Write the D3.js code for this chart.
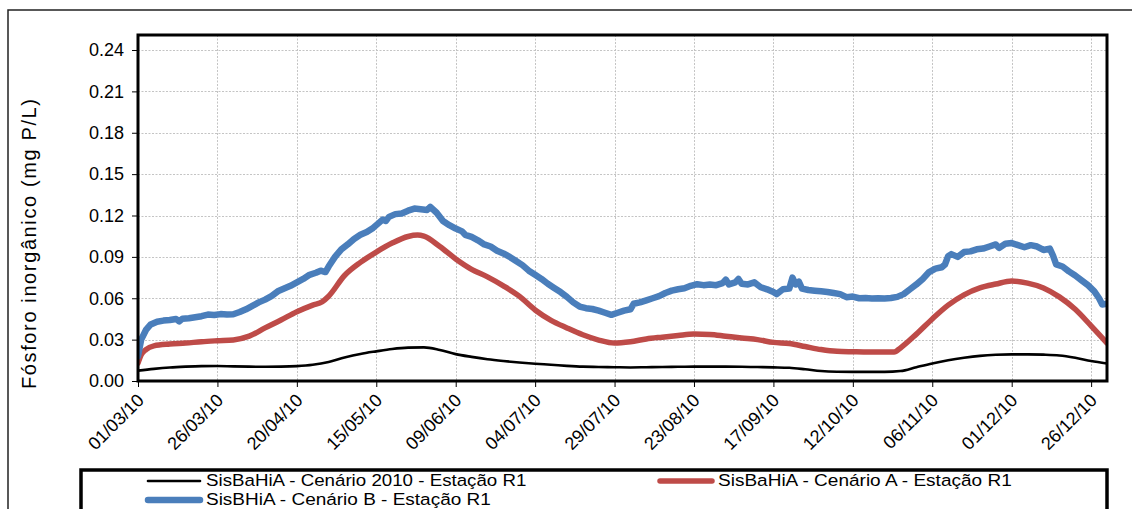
<!DOCTYPE html>
<html>
<head>
<meta charset="utf-8">
<script src="https://cdn.jsdelivr.net/npm/d3@7"></script>
<style>
  html, body { margin: 0; padding: 0; background: #fff; }
  svg { display: block; font-family: "Liberation Sans", Arial, sans-serif; }
</style>
</head>
<body>
<svg id="chart" width="1132" height="509"></svg>
<script>
// Inorganic phosphorus at station R1, 2010 (mg P/L)
const startDay = "01/03/10";
const tickLabels = ["01/03/10", "26/03/10", "20/04/10", "15/05/10", "09/06/10", "04/07/10",
  "29/07/10", "23/08/10", "17/09/10", "12/10/10", "06/11/10", "01/12/10", "26/12/10"];
const yTicks = [0.00, 0.03, 0.06, 0.09, 0.12, 0.15, 0.18, 0.21, 0.24];

const seriesNames = [
  "SisBaHiA - Cenário 2010 - Estação R1",
  "SisBaHiA - Cenário A - Estação R1",
  "SisBHiA - Cenário B - Estação R1"
];

// Cenário 2010 (days after 01/03/10 and value)
const base2010Days = [0, 5, 10, 15, 20, 25, 30, 35, 40, 45, 50, 55, 60, 65, 70, 75, 80, 85, 90, 95,
  100, 105, 110, 115, 120, 125, 130, 135, 140, 145, 150, 155, 160, 165, 170, 175, 180, 185, 190, 195,
  200, 205, 210, 215, 220, 225, 230, 235, 240, 245, 250, 255, 260, 265, 270, 275, 280, 285, 290, 295,
  300, 305];
const base2010Values = [0.0075, 0.0088, 0.0098, 0.0104, 0.0108, 0.0109, 0.0106, 0.0104, 0.0103, 0.0104,
  0.0108, 0.0118, 0.0138, 0.0170, 0.0196, 0.0215, 0.0232, 0.0242, 0.0244, 0.0225,
  0.0195, 0.0175, 0.0158, 0.0145, 0.0134, 0.0125, 0.0118, 0.0110, 0.0104, 0.0102,
  0.0100, 0.0098, 0.0100, 0.0102, 0.0103, 0.0104, 0.0104, 0.0104, 0.0103, 0.0101,
  0.0099, 0.0096, 0.0085, 0.0072, 0.0067, 0.0066, 0.0066, 0.0066, 0.0072, 0.0100,
  0.0127, 0.0150, 0.0168, 0.0182, 0.0190, 0.0193, 0.0193, 0.0191, 0.0185, 0.0168,
  0.0145, 0.0127];

// Cenário A
const scenAdays = [0, 1, 2.5, 5, 10, 15, 20, 25, 30, 35, 40, 45, 50, 55, 58, 60, 65, 70, 75, 80, 85, 88, 90,
  95, 100, 105, 110, 115, 120, 125, 130, 135, 140, 145, 150, 155, 160, 165, 170, 175, 180, 185, 190, 195,
  200, 205, 210, 215, 220, 225, 230, 235, 238, 240, 245, 250, 255, 260, 265, 270, 275, 280, 285, 290,
  295, 300, 305];
const scenAvalues = [0.013, 0.019, 0.0228, 0.0255, 0.0268, 0.0275, 0.0285, 0.0292, 0.0298, 0.0325,
  0.0385, 0.0442, 0.0502, 0.0550, 0.0575, 0.0615, 0.0765, 0.0860, 0.0935, 0.1000, 0.1048, 0.1058, 0.1050,
  0.0975, 0.0885, 0.0810, 0.0755, 0.0690, 0.0615, 0.0515, 0.0440, 0.0385, 0.0335, 0.0297, 0.0275,
  0.0285, 0.0305, 0.0318, 0.0330, 0.0340, 0.0338, 0.0325, 0.0312, 0.0300, 0.0280, 0.0272, 0.0250,
  0.0228, 0.0215, 0.0212, 0.0210, 0.0210, 0.0210, 0.0240, 0.0340, 0.0450, 0.0550, 0.0625, 0.0675,
  0.0703, 0.0725, 0.0710, 0.0675, 0.0610, 0.0520, 0.0400, 0.0275];

// Cenário B
const scenBdays = [0, 1, 2.5, 4, 6, 8, 10, 12, 13, 14, 16, 18, 20, 22, 24, 26, 28, 30, 32, 34, 36, 38,
  40, 42, 44, 46, 48, 50, 52, 54, 56, 57.5, 59, 60, 62, 64, 66, 68, 70, 72, 74, 76, 77, 78, 79, 81, 83,
  85, 87, 89, 91, 92, 94, 96, 98, 100, 102, 103, 105, 107, 109, 111, 113, 115, 117, 119, 121, 123, 125,
  127, 129, 131, 133, 135, 137, 139, 141, 143, 145, 147, 149, 151, 153, 155, 156, 158, 160, 162, 164,
  166, 168, 170, 172, 174, 176, 178, 180, 182, 184, 185, 186, 188, 189, 190, 192, 194, 196, 198, 200,
  201, 203, 205, 206, 207, 208, 209, 211, 213, 215, 217, 219, 221, 223, 225, 227, 229, 231, 233, 235,
  237, 239, 241, 243, 245, 247, 249, 251, 253, 254, 255, 256, 258, 260, 262, 264, 266, 268, 270, 271,
  273, 275, 277, 279, 281, 283, 285, 287, 288, 289, 291, 293, 295, 297, 299, 301, 302.5, 303.5, 305];
const scenBvalues = [0.018, 0.030, 0.037, 0.041, 0.043, 0.0438, 0.0442, 0.0450, 0.0432, 0.0452, 0.0455,
  0.0462, 0.0470, 0.0482, 0.0478, 0.0485, 0.0482, 0.0484, 0.0500, 0.0520, 0.0545, 0.0570,
  0.0590, 0.0615, 0.0650, 0.0670, 0.0690, 0.0715, 0.0740, 0.0770, 0.0785, 0.0800, 0.0790, 0.0830,
  0.0900, 0.0955, 0.0990, 0.1030, 0.1060, 0.1080, 0.1110, 0.1150, 0.1170, 0.1160, 0.1190, 0.1210,
  0.1215, 0.1235, 0.1250, 0.1245, 0.1240, 0.1262, 0.1220, 0.1160, 0.1130, 0.1105, 0.1085, 0.1060,
  0.1045, 0.1020, 0.0990, 0.0975, 0.0945, 0.0925, 0.0900, 0.0870, 0.0840, 0.0800, 0.0770,
  0.0740, 0.0705, 0.0675, 0.0645, 0.0610, 0.0570, 0.0540, 0.0528, 0.0522, 0.0510, 0.0495, 0.0480,
  0.0495, 0.0510, 0.0520, 0.0560, 0.0570, 0.0585, 0.0600, 0.0615, 0.0638, 0.0655, 0.0665, 0.0672,
  0.0690, 0.0702, 0.0695, 0.0700, 0.0695, 0.0710, 0.0735, 0.0700, 0.0715, 0.0740, 0.0705, 0.0700,
  0.0715, 0.0680, 0.0665, 0.0645, 0.0630, 0.0665, 0.0670, 0.0750, 0.0700, 0.0720, 0.0670, 0.0660,
  0.0655, 0.0650, 0.0645, 0.0638, 0.0630, 0.0608, 0.0612, 0.0600, 0.0602, 0.0598, 0.0600, 0.0598,
  0.0602, 0.0610, 0.0630, 0.0665, 0.0700, 0.0740, 0.0790, 0.0815, 0.0825, 0.0845, 0.0905, 0.0920,
  0.0900, 0.0935, 0.0940, 0.0955, 0.0960, 0.0975, 0.0990, 0.0965, 0.0995, 0.1000, 0.0985, 0.0970,
  0.0985, 0.0975, 0.0950, 0.0960, 0.0910, 0.0845, 0.0830, 0.0795, 0.0765, 0.0730, 0.0695, 0.0650,
  0.0600, 0.0555, 0.0560];

const parseDay = d3.utcParse("%d/%m/%y");
const t0 = parseDay(startDay);
const dayMs = 864e5;
const toDate = d => new Date(t0.getTime() + d * dayMs);
const zip = (days, vals) => days.map((d, i) => ({ date: toDate(d), value: vals[i] }));

const series = [
  { name: seriesNames[0], color: "#000000", width: 2.6, curve: d3.curveMonotoneX, points: zip(base2010Days, base2010Values) },
  { name: seriesNames[1], color: "#be4b48", width: 5.5, curve: d3.curveMonotoneX, points: zip(scenAdays, scenAvalues) },
  { name: seriesNames[2], color: "#4a7ebb", width: 6.5, curve: d3.curveLinear, points: zip(scenBdays, scenBvalues) }
];

const svg = d3.select("#chart");
const plot = { left: 138, top: 35, right: 1107, bottom: 381 };

const x = d3.scaleUtc()
  .domain([t0, toDate(305)])
  .range([plot.left, plot.right]);
const y = d3.scaleLinear()
  .domain([0, 0.24])
  .range([plot.bottom, 50]);

// outer chart frame
svg.append("path")
  .attr("d", "M8,509 L8,10 L1132,10")
  .attr("fill", "none").attr("stroke", "#222").attr("stroke-width", 1.5);

const tickDates = tickLabels.map(parseDay);

// gridlines
const grid = svg.append("g").attr("stroke", "#c4c4c4").attr("stroke-width", 1).attr("stroke-dasharray", "2,1.5");
grid.selectAll("line.h").data(yTicks.slice(1)).join("line")
  .attr("x1", plot.left).attr("x2", plot.right)
  .attr("y1", d => Math.round(y(d)) + 0.5).attr("y2", d => Math.round(y(d)) + 0.5);
grid.selectAll("line.v").data(tickDates.slice(1)).join("line")
  .attr("x1", d => Math.round(x(d)) + 0.5).attr("x2", d => Math.round(x(d)) + 0.5)
  .attr("y1", plot.top).attr("y2", plot.bottom);

// y axis
const yAxis = svg.append("g")
  .attr("transform", `translate(${plot.left},0)`)
  .call(d3.axisLeft(y).tickValues(yTicks).tickFormat(d3.format(".2f")).tickSize(6).tickPadding(8));
yAxis.select(".domain").remove();
yAxis.selectAll("text").attr("font-size", 18).attr("fill", "#000")
  .attr("font-family", "Liberation Sans, Arial, sans-serif");
yAxis.selectAll("line").attr("stroke", "#000").attr("stroke-width", 1);

// x axis
const xAxis = svg.append("g")
  .attr("transform", `translate(0,${plot.bottom})`)
  .call(d3.axisBottom(x).tickValues(tickDates).tickFormat((d, i) => tickLabels[i]).tickSize(6).tickPadding(8));
xAxis.select(".domain").remove();
xAxis.selectAll("line").attr("stroke", "#000").attr("stroke-width", 1);
xAxis.selectAll("text")
  .attr("font-size", 18).attr("fill", "#000")
  .attr("font-family", "Liberation Sans, Arial, sans-serif")
  .attr("text-anchor", "end")
  .attr("x", 0).attr("y", 0)
  .attr("dy", "0.35em")
  .attr("transform", "translate(2,16) rotate(-45)");

// series lines
const clip = svg.append("clipPath").attr("id", "plotclip").append("rect")
  .attr("x", plot.left).attr("y", plot.top)
  .attr("width", plot.right - plot.left).attr("height", plot.bottom - plot.top);

const lines = svg.append("g").attr("clip-path", "url(#plotclip)");
series.forEach(s => {
  const line = d3.line().x(d => x(d.date)).y(d => y(d.value)).curve(s.curve);
  lines.append("path")
    .datum(s.points)
    .attr("d", line)
    .attr("fill", "none")
    .attr("stroke", s.color)
    .attr("stroke-width", s.width)
    .attr("stroke-linejoin", "round")
    .attr("stroke-linecap", "round");
});

// plot area border
svg.append("rect")
  .attr("x", plot.left).attr("y", plot.top)
  .attr("width", plot.right - plot.left).attr("height", plot.bottom - plot.top)
  .attr("fill", "none").attr("stroke", "#000").attr("stroke-width", 3);

// y axis title
svg.append("text")
  .attr("transform", "translate(36,244) rotate(-90)")
  .attr("text-anchor", "middle")
  .attr("font-size", 20)
  .attr("textLength", 290)
  .attr("lengthAdjust", "spacing")
  .text("Fósforo inorgânico (mg P/L)");

// legend
const legend = svg.append("g");
legend.append("rect")
  .attr("x", 81).attr("y", 470).attr("width", 1026).attr("height", 60)
  .attr("fill", "#fff").attr("stroke", "#000").attr("stroke-width", 3.5);
const legendPos = [
  { lx: 148, ly: 481, ty: 486 },
  { lx: 660, ly: 481, ty: 486 },
  { lx: 148, ly: 500, ty: 505 }
];
series.forEach((s, i) => {
  const p = legendPos[i];
  legend.append("line")
    .attr("x1", p.lx).attr("x2", p.lx + 52)
    .attr("y1", p.ly).attr("y2", p.ly)
    .attr("stroke", s.color).attr("stroke-width", s.width).attr("stroke-linecap", "round");
  legend.append("text")
    .attr("x", p.lx + 58).attr("y", p.ty)
    .attr("font-size", 16.8)
    .attr("textLength", s.name.length * 8.9)
    .attr("lengthAdjust", "spacingAndGlyphs")
    .text(s.name);
});
</script>
</body>
</html>
